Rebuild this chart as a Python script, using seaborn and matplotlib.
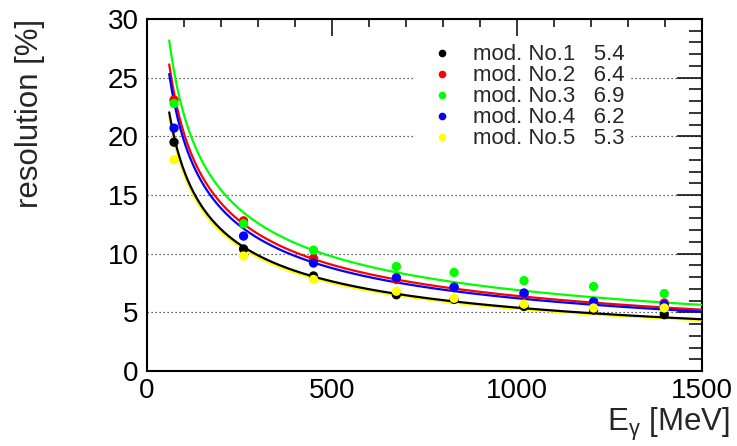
import numpy as np
import pandas as pd
import matplotlib
matplotlib.use("Agg")
import matplotlib.pyplot as plt
from matplotlib.lines import Line2D
from matplotlib.ticker import MultipleLocator
import seaborn as sns

# ---- data ----
energy = [73, 261, 450, 674, 830, 1019, 1207, 1398]          # MeV
modules = ["mod. No.1", "mod. No.2", "mod. No.3", "mod. No.4", "mod. No.5"]
res_mod1 = [19.5, 10.4, 8.1, 6.5, 6.1, 5.5, 5.2, 4.8]
res_mod2 = [23.1, 12.8, 9.6, 7.8, 7.1, 6.55, 5.85, 5.8]
res_mod3 = [22.8, 12.55, 10.3, 8.9, 8.4, 7.7, 7.2, 6.6]
res_mod4 = [20.7, 11.5, 9.2, 7.95, 7.15, 6.65, 5.9, 5.65]
res_mod5 = [18.0, 9.8, 7.8, 6.8, 6.2, 5.7, 5.37, 5.37]
fit_a = [5.4, 6.4, 6.9, 6.2, 5.3]      # fit: sigma = a / sqrt(E[GeV])
fit_range = [60, 1500]                 # MeV
colors = ["#000000", "#ff0000", "#00ff00", "#0000ff", "#ffff00"]

series = [res_mod1, res_mod2, res_mod3, res_mod4, res_mod5]

pts = pd.DataFrame({
    "E": np.tile(energy, len(modules)),
    "res": np.concatenate(series),
    "module": np.repeat(modules, len(energy)),
})
e_curve = np.linspace(fit_range[0], fit_range[1], 400)
curves = pd.DataFrame({
    "E": np.tile(e_curve, len(modules)),
    "res": np.concatenate([a / np.sqrt(e_curve / 1000.0) for a in fit_a]),
    "module": np.repeat(modules, len(e_curve)),
})

sns.set_theme(style="white")
plt.rcParams["font.family"] = ["Liberation Sans", "DejaVu Sans"]
plt.rcParams["mathtext.fontset"] = "custom"
plt.rcParams["mathtext.rm"] = "Liberation Sans"
plt.rcParams["mathtext.it"] = "Liberation Sans"

fig = plt.figure(figsize=(7.37, 4.46), dpi=100)
ax = fig.add_axes([147 / 737, 1 - 371 / 446, 555 / 737, 352 / 446])

# curves (yellow first so black sits on top like in the reference)
order_lines = [4, 0, 1, 3, 2]
for i in order_lines:
    sub = curves[curves["module"] == modules[i]]
    sns.lineplot(data=sub, x="E", y="res", color=colors[i], lw=1.6,
                 ax=ax, legend=False, zorder=3, sort=False)
for i in range(len(modules)):
    sub = pts[pts["module"] == modules[i]]
    sns.scatterplot(data=sub, x="E", y="res", color=colors[i], s=45,
                    edgecolor="none", ax=ax, legend=False, zorder=4)

ax.set_xlim(0, 1500)
ax.set_ylim(0, 30)
ax.xaxis.set_major_locator(MultipleLocator(500))
ax.xaxis.set_minor_locator(MultipleLocator(100))
ax.yaxis.set_major_locator(MultipleLocator(5))
ax.yaxis.set_minor_locator(MultipleLocator(1))

ax.tick_params(axis="both", which="both", direction="in", top=True, right=True,
               colors="black", labelsize=20, width=1.1)
ax.tick_params(axis="x", which="major", length=12.2, pad=5)
ax.tick_params(axis="x", which="minor", length=6.1)
ax.tick_params(axis="y", which="major", length=18, pad=6)
ax.tick_params(axis="y", which="minor", length=9.4)
for sp in ax.spines.values():
    sp.set_color("black")
    sp.set_linewidth(1.5)

ax.yaxis.grid(True, which="major", linestyle=(0, (1, 2.2)), color="#333333", lw=0.9)
ax.xaxis.grid(False)
ax.set_axisbelow(True)

ax.set_xlabel(r"E$_{\mathrm{γ}}$ [MeV]", fontsize=22.5)
ax.xaxis.set_label_coords(1.05, -(424 - 371) / 352)
ax.xaxis.label.set_ha("right")
ax.xaxis.label.set_va("center")
ax.set_ylabel("resolution [%]", fontsize=22.5)
ax.yaxis.set_label_coords(-0.211, (371 - 113) / 352)
ax.yaxis.label.set_ha("center")
ax.yaxis.label.set_va("center")

handles = [Line2D([], [], marker="o", ls="none", color=c, markersize=5.5,
                  markeredgewidth=0) for c in colors]
labels = [f"{m}   {a}" for m, a in zip(modules, fit_a)]
leg = ax.legend(handles, labels, loc="upper left",
                bbox_to_anchor=((415 - 147) / 555, (371 - 40) / 352),
                borderaxespad=0, borderpad=0.2, handlelength=2.0,
                handletextpad=0.43, labelspacing=0.0, fontsize=16,
                frameon=True, fancybox=False, framealpha=1,
                facecolor="white", edgecolor="none")
leg.set_zorder(5)

fig.savefig("out.png", dpi=100, facecolor="white")
